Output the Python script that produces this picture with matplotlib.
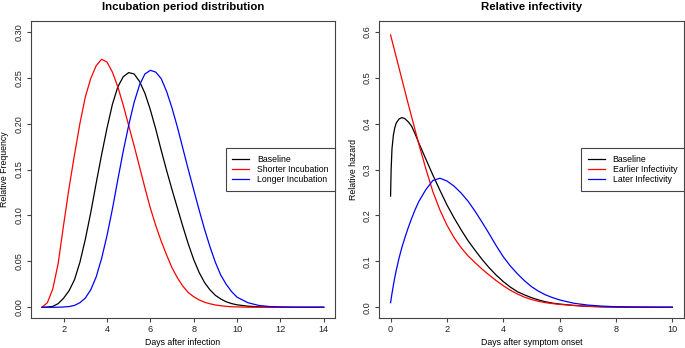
import matplotlib
matplotlib.use('Agg')
import matplotlib.pyplot as plt

plt.rcParams['font.family'] = ['Liberation Sans', 'DejaVu Sans']

# incubation period curves
inc_days = [1, 1.25, 1.5, 1.75, 2, 2.25, 2.5, 2.75, 3, 3.25, 3.5, 3.75, 4,
            4.25, 4.5, 4.75, 5, 5.25, 5.5, 5.75, 6, 6.25, 6.5, 6.75, 7, 7.25,
            7.5, 7.75, 8, 8.25, 8.5, 8.75, 9, 9.25, 9.5, 9.75, 10,
            10.5, 11, 11.5, 12, 12.5, 13, 13.5, 14]
inc_baseline = [0, 0.0002, 0.001, 0.004, 0.010, 0.018, 0.030, 0.049, 0.074,
                0.103, 0.135, 0.166, 0.195, 0.221, 0.240, 0.251, 0.2555, 0.254,
                0.246, 0.233, 0.215, 0.194, 0.171, 0.149, 0.128, 0.108, 0.088,
                0.069, 0.052, 0.038, 0.027, 0.019, 0.013, 0.009, 0.006, 0.004,
                0.0027, 0.0012, 0.0005, 0.0002, 0.0001, 0, 0, 0, 0]
inc_shorter = [0, 0.005, 0.020, 0.048, 0.090, 0.130, 0.166, 0.200, 0.229,
               0.249, 0.263, 0.270, 0.267, 0.256, 0.240, 0.220, 0.198, 0.176,
               0.153, 0.130, 0.108, 0.089, 0.072, 0.057, 0.043, 0.032, 0.023,
               0.016, 0.0115, 0.008, 0.0055, 0.0038, 0.0025, 0.0017, 0.001,
               0.0006, 0.0004, 0.0001, 0, 0, 0, 0, 0, 0, 0]
inc_longer = [0, 0, 0, 0.0001, 0.0003, 0.0008, 0.002, 0.005, 0.010, 0.019,
              0.033, 0.053, 0.078, 0.107, 0.139, 0.170, 0.198, 0.223, 0.242,
              0.254, 0.258, 0.256, 0.249, 0.235, 0.217, 0.196, 0.173, 0.150,
              0.128, 0.106, 0.085, 0.066, 0.049, 0.035, 0.025, 0.017, 0.011,
              0.005, 0.002, 0.0008, 0.0003, 0.0001, 0, 0, 0]
inc_labels = ['Baseline', 'Shorter Incubation', 'Longer Incubation']

# relative infectivity curves
inf_days = [0, 0.02, 0.05, 0.1, 0.15, 0.2, 0.3, 0.4, 0.5, 0.625, 0.75, 0.875,
            1, 1.25, 1.5, 1.75, 2, 2.25, 2.5, 2.75, 3, 3.25, 3.5, 3.75, 4,
            4.25, 4.5, 4.75, 5, 5.25, 5.5, 5.75, 6, 6.5, 7, 7.5, 8, 8.5, 9,
            9.5, 10]
inf_baseline = [0.242, 0.300, 0.345, 0.375, 0.391, 0.401, 0.410, 0.413, 0.411,
                0.404, 0.394, 0.377, 0.358, 0.323, 0.288, 0.255, 0.223, 0.195,
                0.169, 0.145, 0.124, 0.104, 0.086, 0.070, 0.056, 0.044, 0.034,
                0.027, 0.021, 0.016, 0.012, 0.009, 0.007, 0.004, 0.002, 0.001,
                0.0005, 0.0002, 0.0001, 0, 0]
inf_earlier = [0.593, 0.588, 0.581, 0.569, 0.557, 0.545, 0.521, 0.497, 0.473,
               0.443, 0.414, 0.385, 0.356, 0.302, 0.252, 0.212, 0.179, 0.152,
               0.130, 0.112, 0.097, 0.083, 0.070, 0.058, 0.047, 0.037, 0.029,
               0.022, 0.017, 0.013, 0.010, 0.008, 0.0063, 0.004, 0.0022,
               0.0012, 0.0006, 0.0003, 0.0001, 0, 0]
inf_later = [0.010, 0.018, 0.030, 0.048, 0.065, 0.080, 0.107, 0.130, 0.150,
             0.173, 0.194, 0.213, 0.230, 0.256, 0.276, 0.281, 0.275, 0.264,
             0.249, 0.231, 0.209, 0.185, 0.160, 0.134, 0.110, 0.090, 0.073,
             0.058, 0.045, 0.035, 0.027, 0.021, 0.016, 0.0088, 0.0048, 0.0025,
             0.0012, 0.0006, 0.0003, 0.0001, 0]
inf_labels = ['Baseline', 'Earlier Infectivity', 'Later Infectivity']

colors = ['black', 'red', 'blue']
fs = 6.3
tick_fs = 6.6
frame_col = '#444444'

fig = plt.figure(figsize=(6.85, 3.48), dpi=100)
H = 297.6  # axes height in px


def style_axes(ax, title, xlabel, ylabel):
    for sp in ax.spines.values():
        sp.set_color(frame_col)
        sp.set_linewidth(0.8)
    ax.tick_params(direction='out', length=2.7, width=0.8, color=frame_col,
                   labelsize=tick_fs, labelcolor='#222222')
    ax.tick_params(axis='x', pad=2)
    ax.tick_params(axis='y', pad=2.5, labelrotation=90)
    for lab in ax.get_yticklabels():
        lab.set_va('center')
    ax.text(0.5, 1 + 14 / H, title, transform=ax.transAxes, ha='center',
            va='center', fontsize=8.2, fontweight='bold')
    ax.set_xlabel(xlabel, fontsize=fs, va='center')
    ax.xaxis.set_label_coords(0.5, -24 / H)
    ax.set_ylabel(ylabel, fontsize=fs, va='center')
    ax.yaxis.set_label_coords(-25.7 / 304.3, 0.5)


def add_legend(ax, labels):
    leg = ax.legend(labels, loc='center right', bbox_to_anchor=(1.0, 0.5),
                    borderaxespad=0, fontsize=fs, handlelength=1.9,
                    handletextpad=0.9, borderpad=0.75, labelspacing=0.15,
                    fancybox=False, framealpha=1)
    leg.get_frame().set_edgecolor(frame_col)
    leg.get_frame().set_linewidth(0.8)


# left panel
ax1 = fig.add_axes([30.7 / 685, 29.7 / 348, 304.3 / 685, H / 348])
for ys, c in zip([inc_baseline, inc_shorter, inc_longer], colors):
    ax1.plot(inc_days, ys, color=c, lw=0.9)
ax1.set_xlim(0.48, 14.52)
ax1.set_ylim(-0.012, 0.312)
ax1.set_xticks([2, 4, 6, 8, 10, 12, 14])
ax1.set_yticks([0, 0.05, 0.10, 0.15, 0.20, 0.25, 0.30])
ax1.set_yticklabels(['0.00', '0.05', '0.10', '0.15', '0.20', '0.25', '0.30'])
style_axes(ax1, 'Incubation period distribution', 'Days after infection',
           'Relative Frequency')
add_legend(ax1, inc_labels)

# right panel
ax2 = fig.add_axes([379.3 / 685, 29.7 / 348, 304.3 / 685, H / 348])
for ys, c in zip([inf_baseline, inf_earlier, inf_later], colors):
    ax2.plot(inf_days, ys, color=c, lw=0.9)
ax2.set_xlim(-0.4, 10.4)
ax2.set_ylim(-0.024, 0.624)
ax2.set_xticks([0, 2, 4, 6, 8, 10])
ax2.set_yticks([0, 0.1, 0.2, 0.3, 0.4, 0.5, 0.6])
ax2.set_yticklabels(['0.0', '0.1', '0.2', '0.3', '0.4', '0.5', '0.6'])
style_axes(ax2, 'Relative infectivity', 'Days after symptom onset',
           'Relative hazard')
add_legend(ax2, inf_labels)

fig.savefig('out.png', dpi=100)
